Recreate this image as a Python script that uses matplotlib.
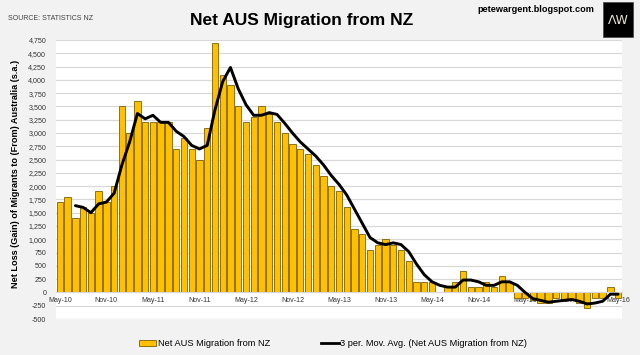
import numpy as np
import pandas as pd
import matplotlib
matplotlib.use('Agg')
import matplotlib.pyplot as plt
from matplotlib.patches import Patch, Rectangle
from matplotlib.lines import Line2D
from matplotlib.ticker import FuncFormatter, MultipleLocator

# monthly, May-10 .. May-16
months = pd.date_range('2010-05-01', '2016-05-01', freq='MS')
net_migration = [1700, 1800, 1400, 1600, 1500, 1900, 1700, 2000, 3500, 3000,
                 3600, 3200, 3200, 3200, 3200, 2700, 2900, 2700, 2500, 3100,
                 4700, 4100, 3900, 3500, 3200, 3300, 3500, 3350, 3200, 3000,
                 2800, 2700, 2600, 2400, 2200, 2000, 1900, 1600, 1200, 1100,
                 800, 900, 1000, 900, 800, 600, 200, 200, 200, 0,
                 100, 200, 400, 100, 100, 200, 100, 300, 200, -100,
                 -100, -150, -200, -200, -100, -150, -150, -200, -300, -100,
                 -100, 100, -100]
tick_labels = ['May-10', 'Nov-10', 'May-11', 'Nov-11', 'May-12', 'Nov-12', 'May-13',
               'Nov-13', 'May-14', 'Nov-14', 'May-15', 'Nov-15', 'May-16']

series = pd.Series(net_migration, index=months)
mov_avg = series.rolling(3).mean()
x = np.arange(len(series))

plt.rcParams['font.family'] = ['Liberation Sans', 'DejaVu Sans']

fig = plt.figure(figsize=(6.4, 3.55), dpi=100, facecolor='#F2F2F2')
ax = fig.add_axes([56/640, 1-319/355, 566/640, 279/355])
ax.set_facecolor('white')

ax.bar(x, series.values, width=0.82, color='#FFC000', edgecolor='#7F6000',
       linewidth=0.6, zorder=2)
ax.plot(x, mov_avg.values, color='black', linewidth=2.1, zorder=3,
        solid_joinstyle='round', solid_capstyle='round')

ax.set_xlim(-0.5, len(x) - 0.5)
ax.set_ylim(-500, 4750)
ax.yaxis.set_major_locator(MultipleLocator(250))
ax.yaxis.set_major_formatter(FuncFormatter(lambda v, p: f'{int(v):,}'))
ax.grid(axis='y', color='#D9D9D9', linewidth=0.9, zorder=0)
ax.set_axisbelow(True)

ax.set_xticks(x[::6])
ax.set_xticklabels(tick_labels)
ax.spines['bottom'].set_position(('data', 0))
ax.spines['bottom'].set_color('#D9D9D9')
for s in ['top', 'right', 'left']:
    ax.spines[s].set_visible(False)
ax.tick_params(axis='both', length=0, labelsize=5.1, colors='#333333')
ax.tick_params(axis='x', pad=3)
ax.tick_params(axis='y', pad=7)

fig.text(16/640, 1-174/355, 'Net Loss (Gain) of Migrants to (From) Australia (s.a.)',
         rotation=90, ha='center', va='center', fontsize=6.6, fontweight='bold')

fig.text(302/640, 1-21/355, 'Net AUS Migration from NZ', ha='center', va='center',
         fontsize=12.5, fontweight='bold')
fig.text(8/640, 1-19/355, 'SOURCE: STATISTICS NZ', ha='left', va='center',
         fontsize=5, color='#404040')
fig.text(594/640, 1-10/355, 'petewargent.blogspot.com', ha='right', va='center',
         fontsize=6.6, fontweight='bold')
fig.patches.append(Rectangle((603/640, 1-37/355), 30/640, 35/355,
                             transform=fig.transFigure, facecolor='black',
                             edgecolor='#444444', linewidth=0.5))
fig.text(618/640, 1-21/355, 'ΛW', ha='center', va='center', fontsize=9,
         color='#EDE6CC', family=['DejaVu Sans'])

handles = [Patch(facecolor='#FFC000', edgecolor='#7F6000', linewidth=0.6),
           Line2D([], [], color='black', linewidth=2.0)]
fig.legend(handles, ['Net AUS Migration from NZ',
                     '3 per. Mov. Avg. (Net AUS Migration from NZ)'],
           loc='center', bbox_to_anchor=(333/640, 1-344/355), ncol=2,
           frameon=False, fontsize=6.7, handlelength=1.9, handleheight=0.6,
           handletextpad=0.15, columnspacing=5.5)

fig.savefig('out.png', dpi=100, facecolor=fig.get_facecolor())
